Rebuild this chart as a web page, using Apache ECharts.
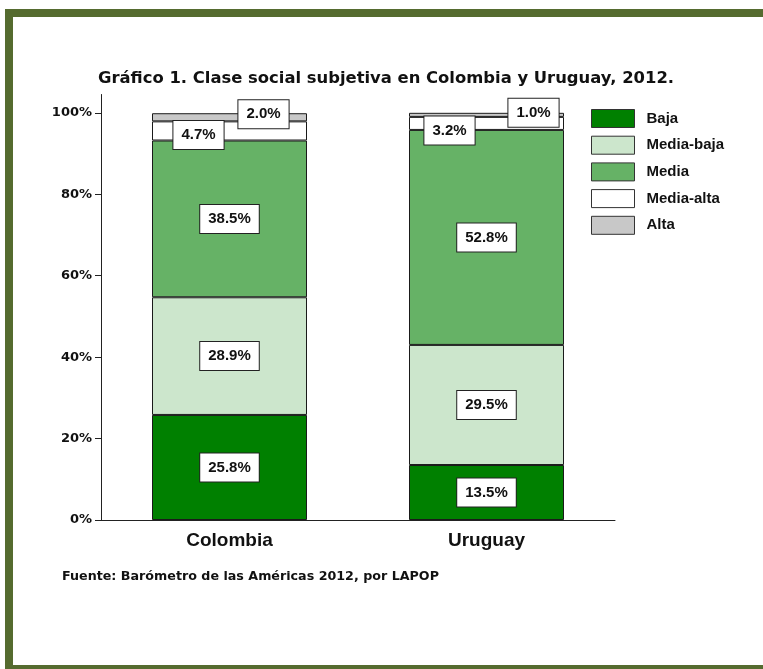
<!DOCTYPE html>
<html>
<head>
<meta charset="utf-8">
<style>
  html, body { margin: 0; padding: 0; background: #fff; }
  #chart { width: 763px; height: 669px; }
</style>
<script src="https://cdn.jsdelivr.net/npm/echarts@6/dist/echarts.min.js"></script>
</head>
<body>
<div id="chart"></div>
<script>
// Subjective social class, Colombia and Uruguay, 2012 (percent of respondents)
const countries = ['Colombia', 'Uruguay'];
const classNames = ['Baja', 'Media-baja', 'Media', 'Media-alta', 'Alta'];
const baja = [25.8, 13.5];
const mediaBaja = [28.9, 29.5];
const media = [38.5, 52.8];
const mediaAlta = [4.7, 3.2];
const alta = [2.0, 1.0];
const yTicks = [0, 20, 40, 60, 80, 100];

const seriesValues = [baja, mediaBaja, media, mediaAlta, alta];
const fills = ['#008000', '#cce6cc', '#66b266', '#ffffff', '#c8c8c8'];

// thin top segments get their value boxes nudged aside so they stay readable
const labelShift = {
  3: [[-31, 4], [-37, 7]],
  4: [[34, -3], [47, -2]]
};

const SANS = '"Liberation Sans", Arial, sans-serif';
const WIDE = '"DejaVu Sans", sans-serif';

const series = seriesValues.map((vals, si) => ({
  name: classNames[si],
  type: 'bar',
  stack: 'total',
  barWidth: 155,
  itemStyle: { color: fills[si], borderColor: '#1a1a1a', borderWidth: 1 },
  data: vals.map((v, ci) => {
    const item = { value: v };
    if (labelShift[si]) item.label = { offset: labelShift[si][ci] };
    return item;
  }),
  label: {
    show: true,
    position: 'inside',
    formatter: p => p.value.toFixed(1) + '%',
    backgroundColor: '#fff',
    borderColor: '#222',
    borderWidth: 1,
    padding: [7, 8, 6, 8],
    color: '#111',
    fontFamily: SANS,
    fontWeight: 'bold',
    fontSize: 15
  }
}));

const chart = echarts.init(document.getElementById('chart'), null, { renderer: 'canvas' });
chart.setOption({
  animation: false,
  backgroundColor: '#fff',
  title: {
    text: 'Gráfico 1. Clase social subjetiva en Colombia y Uruguay, 2012.',
    left: 381,
    textAlign: 'center',
    top: 66,
    textStyle: { fontFamily: WIDE, fontWeight: 'bold', fontSize: 16.4, color: '#111' }
  },
  legend: {
    orient: 'vertical',
    left: 591,
    top: 109,
    padding: 0,
    itemWidth: 43,
    itemHeight: 18,
    itemGap: 7.7,
    icon: 'rect',
    data: classNames,
    textStyle: { fontFamily: SANS, fontWeight: 'bold', fontSize: 15, lineHeight: 18, color: '#111', padding: [0, 0, 0, 7] },
    itemStyle: { borderColor: '#333', borderWidth: 1 }
  },
  grid: { left: 101, right: 148, top: 94.5, bottom: 149 },
  xAxis: {
    type: 'category',
    data: countries,
    axisLine: { lineStyle: { color: '#222', width: 1 } },
    axisTick: { show: false },
    axisLabel: { fontFamily: SANS, fontWeight: 'bold', fontSize: 19, color: '#111', margin: 11 }
  },
  yAxis: {
    type: 'value',
    min: 0,
    max: 104.5,
    splitLine: { show: false },
    axisLine: { show: true, lineStyle: { color: '#222', width: 1 } },
    axisTick: { show: true, length: 6, lineStyle: { color: '#222' }, customValues: yTicks },
    axisLabel: {
      customValues: yTicks,
      formatter: v => v + '%',
      fontFamily: WIDE, fontWeight: 'bold', fontSize: 13, color: '#111', margin: 9
    }
  },
  series: series,
  graphic: [
    { type: 'rect', shape: { x: 5, y: 9, width: 758, height: 8 }, style: { fill: '#556b2f' }, z: 100 },
    { type: 'rect', shape: { x: 5, y: 9, width: 8, height: 660 }, style: { fill: '#556b2f' }, z: 100 },
    { type: 'rect', shape: { x: 5, y: 665, width: 758, height: 4 }, style: { fill: '#556b2f' }, z: 100 },
    {
      type: 'text', left: 62, top: 570, z: 100,
      style: {
        text: 'Fuente: Barómetro de las Américas 2012, por LAPOP',
        font: 'bold 12.7px "DejaVu Sans", sans-serif',
        fill: '#111'
      }
    }
  ]
});
</script>
</body>
</html>
